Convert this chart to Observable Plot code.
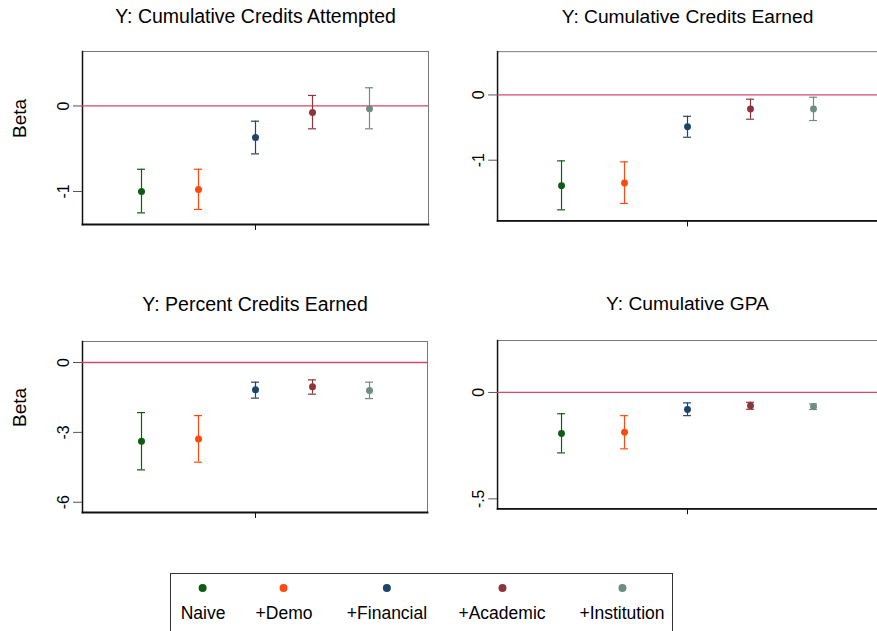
<!DOCTYPE html>
<html>
<head>
<meta charset="utf-8">
<script src="https://cdn.jsdelivr.net/npm/d3@7"></script>
<script src="https://cdn.jsdelivr.net/npm/@observablehq/plot@0.6"></script>
<style>
  html, body { margin: 0; padding: 0; background: #fff; overflow: hidden; }
  #root { position: relative; width: 877px; height: 631px; overflow: hidden; font-family: "Liberation Sans", Arial, sans-serif; }
  .panel { position: absolute; }
  .panel svg { overflow: visible; }
  #legend { position: absolute; left: 170px; top: 573px; width: 503px; height: 80px; box-sizing: border-box;
            border: 1px solid #333; }
  .item { position: absolute; top: 0; display: flex; flex-direction: column; align-items: center; transform: translateX(-50%); }
  .item:nth-child(1) { left: 32px; }
  .item:nth-child(2) { left: 113px; }
  .item:nth-child(3) { left: 216px; }
  .item:nth-child(4) { left: 331px; }
  .item:nth-child(5) { left: 451px; }
  .dot { width: 8px; height: 8px; border-radius: 50%; margin-top: 10px; }
  .lab { margin-top: 11px; font-size: 17.5px; line-height: 20px; color: #000; white-space: nowrap; }
</style>
</head>
<body>
<div id="root"></div>
<script>
const categories = ["Naive", "+Demo", "+Financial", "+Academic", "+Institution"];
const colors = ["#0d5c12", "#ff4a0f", "#1a456c", "#8e343c", "#6e8d83"];

const titles = [
  "Y: Cumulative Credits Attempted",
  "Y: Cumulative Credits Earned",
  "Y: Percent Credits Earned",
  "Y: Cumulative GPA"
];

// Panel 1: Cumulative Credits Attempted
const beta1 = [-1.00, -0.977, -0.368, -0.076, -0.033];
const hi1   = [-0.74, -0.74, -0.178, 0.123, 0.213];
const lo1   = [-1.25, -1.21, -0.56, -0.267, -0.267];
// Panel 2: Cumulative Credits Earned
const beta2 = [-1.391, -1.35, -0.487, -0.216, -0.216];
const hi2   = [-1.01, -1.025, -0.327, -0.065, -0.035];
const lo2   = [-1.76, -1.663, -0.648, -0.372, -0.392];
// Panel 3: Percent Credits Earned
const beta3 = [-3.38, -3.28, -1.17, -1.04, -1.20];
const hi3   = [-2.15, -2.28, -0.845, -0.745, -0.845];
const lo3   = [-4.61, -4.28, -1.53, -1.36, -1.55];
// Panel 4: Cumulative GPA
const beta4 = [-0.193, -0.187, -0.080, -0.062, -0.066];
const hi4   = [-0.100, -0.109, -0.049, -0.046, -0.054];
const lo4   = [-0.284, -0.265, -0.109, -0.079, -0.080];

const ticks1 = [0, -1], tickLabels1 = ["0", "-1"];
const ticks2 = [0, -1], tickLabels2 = ["0", "-1"];
const ticks3 = [0, -3, -6], tickLabels3 = ["0", "-3", "-6"];
const ticks4 = [0, -0.5], tickLabels4 = ["0", "-.5"];

const panels = [
  {title: titles[0], beta: beta1, hi: hi1, lo: lo1, ticks: ticks1, labels: tickLabels1, yDomain: [-1.386, 0.637],
   left: 0, top: 0, width: 440, height: 240, mL: 82, mR: 12, mT: 51, mB: 16, ylabel: "Beta", tdy: -34.5, pi: 0.86},
  {title: titles[1], beta: beta2, hi: hi2, lo: lo2, ticks: ticks2, labels: tickLabels2, yDomain: [-1.931, 0.663],
   left: 437, top: 0, width: 447, height: 240, mL: 61, mR: 0, mT: 52, mB: 16, ylabel: null, tdy: -35.5, pi: 0.876},
  {title: titles[2], beta: beta3, hi: hi3, lo: lo3, ticks: ticks3, labels: tickLabels3, yDomain: [-6.44, 0.902],
   left: 0, top: 280, width: 440, height: 250, mL: 82, mR: 13, mT: 61, mB: 18, ylabel: "Beta", tdy: -37, pi: 0.86},
  {title: titles[3], beta: beta4, hi: hi4, lo: lo4, ticks: ticks4, labels: tickLabels4, yDomain: [-0.547, 0.244],
   left: 437, top: 280, width: 447, height: 250, mL: 61, mR: 0, mT: 61, mB: 18, ylabel: null, tdy: -37, pi: 0.876}
];

const root = document.getElementById("root");

for (const p of panels) {
  const data = categories.map((c, i) => ({model: c, b: p.beta[i], lo: p.lo[i], hi: p.hi[i]}));
  const marks = [
    Plot.frame({stroke: "#777", strokeWidth: 1}),
    Plot.frame({anchor: "left", stroke: "#111", strokeWidth: 1.5}),
    Plot.frame({anchor: "bottom", stroke: "#111", strokeWidth: 1.8}),
    Plot.ruleY([0], {stroke: "#d4486b", strokeWidth: 1.3}),
    Plot.ruleX(data, {x: "model", y1: "lo", y2: "hi", stroke: "model", strokeWidth: 1.2}),
    Plot.tickY(data, {x: "model", y: "lo", stroke: "model", strokeWidth: 1.2}),
    Plot.tickY(data, {x: "model", y: "hi", stroke: "model", strokeWidth: 1.2}),
    Plot.dot(data, {x: "model", y: "b", fill: "model", r: 3.5}),
    Plot.axisY({ticks: p.ticks, tickFormat: d => p.labels[p.ticks.indexOf(d)], tickRotate: -90,
                tickSize: 9, tickPadding: 5, stroke: "#555", fill: "#000", fontSize: 16, label: null}),
    Plot.axisX({ticks: [categories[2]], tickFormat: () => "", tickSize: 6, stroke: "#111", label: null}),
    Plot.text([p.title], {frameAnchor: "top", dy: p.tdy, fontSize: 19.5, fill: "#000", lineAnchor: "middle"})
  ];
  if (p.ylabel) {
    marks.push(Plot.text([p.ylabel], {frameAnchor: "left", dx: -63, rotate: -90, fontSize: 19, fill: "#000"}));
  }
  const chart = Plot.plot({
    width: p.width, height: p.height,
    marginLeft: p.mL, marginRight: p.mR, marginTop: p.mT, marginBottom: p.mB,
    style: {fontFamily: "Liberation Sans, Arial, sans-serif", background: "transparent", overflow: "visible"},
    x: {type: "band", domain: categories, paddingInner: p.pi, paddingOuter: (1 + p.pi) / 2, axis: null},
    y: {domain: p.yDomain, axis: null},
    color: {domain: categories, range: colors},
    marks
  });
  const div = document.createElement("div");
  div.className = "panel";
  div.style.left = p.left + "px";
  div.style.top = p.top + "px";
  div.appendChild(chart);
  root.appendChild(div);
}

const legend = document.createElement("div");
legend.id = "legend";
categories.forEach((c, i) => {
  const item = document.createElement("div");
  item.className = "item";
  const dot = document.createElement("div");
  dot.className = "dot";
  dot.style.background = colors[i];
  const lab = document.createElement("div");
  lab.className = "lab";
  lab.textContent = c;
  item.appendChild(dot);
  item.appendChild(lab);
  legend.appendChild(item);
});
root.appendChild(legend);
</script>
</body>
</html>
